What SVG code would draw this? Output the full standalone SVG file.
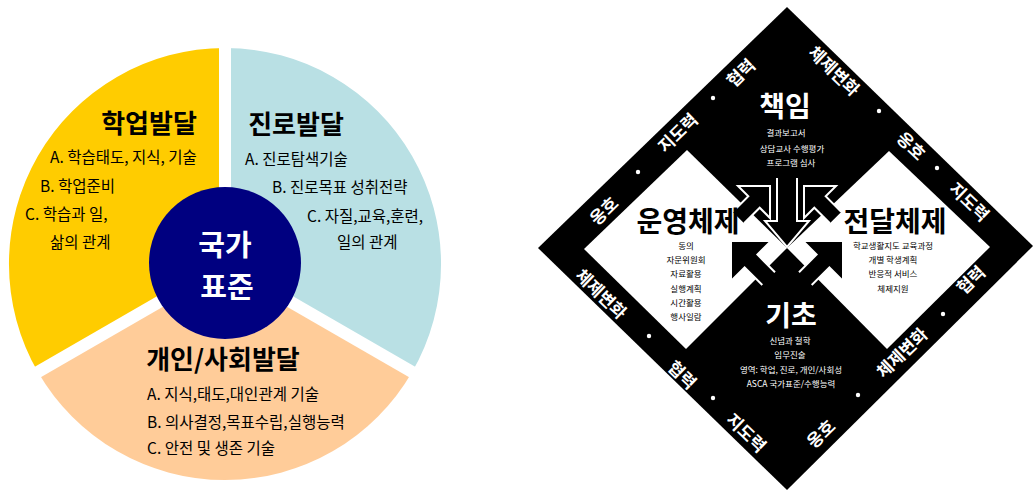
<svg xmlns="http://www.w3.org/2000/svg" width="1033" height="495" viewBox="0 0 1033 495">
<style>
.k{font-family:"Noto Sans CJK KR","Noto Sans",sans-serif}
.t{font-size:26px;font-weight:bold;fill:#000}
.i{font-size:15.5px;fill:#000}
.c{font-size:29px;font-weight:bold;fill:#fff;text-anchor:middle}
.dt{font-size:28px;font-weight:bold;text-anchor:middle}
.w{fill:#fff}
.b{fill:#000}
.s{font-size:8.5px;text-anchor:middle}
.e{font-size:17px;font-weight:bold;fill:#fff;text-anchor:middle;dominant-baseline:central}
.arr{fill:#000;stroke:#fff;stroke-width:2;stroke-linejoin:miter}
.gap{stroke:#fff;stroke-width:12}
</style>
<rect width="1033" height="495" fill="#fff"/>

<g id="pie">
  <g id="academic">
    <path d="M225,264 L225,48 A216,216 0 0,0 37.9,372 Z" fill="#FFCC00"/>
  </g>
  <g id="career">
    <path d="M225,264 L225,48 A216,216 0 0,1 412.1,372 Z" fill="#B9E0E4"/>
  </g>
  <g id="personal">
    <path d="M225,264 L37.9,372 A216,216 0 0,0 412.1,372 Z" fill="#FFCC99"/>
  </g>
  <line class="gap" x1="225" y1="264" x2="225" y2="40"/>
  <line class="gap" x1="225" y1="264" x2="17" y2="384"/>
  <line class="gap" x1="225" y1="264" x2="433" y2="384"/>
</g>

<g id="academic-text" class="k">
  <text class="t" x="149" y="133" text-anchor="middle">학업발달</text>
  <text class="i" x="50" y="163">A. 학습태도, 지식, 기술</text>
  <text class="i" x="40" y="192">B. 학업준비</text>
  <text class="i" x="25" y="220">C. 학습과 일,</text>
  <text class="i" x="50" y="248">삶의 관계</text>
</g>
<g id="career-text" class="k">
  <text class="t" x="296" y="134" text-anchor="middle">진로발달</text>
  <text class="i" x="245" y="165">A. 진로탐색기술</text>
  <text class="i" x="272" y="193">B. 진로목표 성취전략</text>
  <text class="i" x="307" y="222">C. 자질,교육,훈련,</text>
  <text class="i" x="337" y="248">일의 관계</text>
</g>
<g id="personal-text" class="k">
  <text class="t" x="223" y="369" text-anchor="middle">개인/사회발달</text>
  <text class="i" x="147" y="400">A. 지식,태도,대인관계 기술</text>
  <text class="i" x="147" y="428">B. 의사결정,목표수립,실행능력</text>
  <text class="i" x="147" y="454">C. 안전 및 생존 기술</text>
</g>
<g id="national-standard">
  <circle cx="225" cy="263" r="76" fill="#000080"/>
  <text class="k c" x="225" y="256">국가</text>
  <text class="k c" x="227" y="298">표준</text>
</g>

<g id="diamond">
  <polygon points="787,7 1033,246 787,490 538,248" fill="#000"/>
  <g id="management-box"><polygon points="687,150 787,248 686,349 584,249" fill="#fff"/></g>
  <g id="delivery-box"><polygon points="889,151 990,247 887,349 787,248" fill="#fff"/></g>
</g>

<g id="connectors">
  <path class="arr" d="M797,178 L797,221 L809,221 L787,247 L765,221 L777,221 L777,178"/>
  <path class="arr" d="M732.8,211.9 L748.3,196.3 L738,186 L770,186 L770,218 L759.7,207.7 L744.1,223.2"/>
  <path class="arr" d="M841.2,211.9 L825.7,196.3 L836,186 L804,186 L804,218 L814.3,207.7 L829.9,223.2"/>
  <path class="arr" d="M775,272.3 L757.4,254.6 L771,241 L731,241 L731,281 L744.6,267.4 L762.3,285"/>
  <path class="arr" d="M799,272.3 L816.6,254.6 L803,241 L843,241 L843,281 L829.4,267.4 L811.7,285"/>
</g>

<g id="accountability" class="k">
  <text class="dt w" x="785" y="117">책임</text>
  <text class="s w" x="786" y="136" font-size="9">결과보고서</text>
  <text class="s w" x="792" y="152" font-size="9">상담교사 수행평가</text>
  <text class="s w" x="791" y="166" font-size="9">프로그램 심사</text>
</g>
<g id="management" class="k">
  <text class="dt b" x="688" y="232">운영체제</text>
  <text class="s b" x="686" y="249">동의</text>
  <text class="s b" x="686" y="263">자문위원회</text>
  <text class="s b" x="686" y="277">자료활용</text>
  <text class="s b" x="686" y="292">실행계획</text>
  <text class="s b" x="686" y="306">시간활용</text>
  <text class="s b" x="686" y="320">행사일람</text>
</g>
<g id="delivery" class="k">
  <text class="dt b" x="895" y="232">전달체제</text>
  <text class="s b" x="893" y="249">학교생활지도 교육과정</text>
  <text class="s b" x="893" y="263">개별 학생계획</text>
  <text class="s b" x="893" y="277">반응적 서비스</text>
  <text class="s b" x="893" y="292">체제지원</text>
</g>
<g id="foundation" class="k">
  <text class="dt w" x="791" y="326">기초</text>
  <text class="s w" x="790" y="344">신념과 철학</text>
  <text class="s w" x="790" y="358">임무진술</text>
  <text class="s w" x="791" y="373">영역: 학업, 진로, 개인/사회성</text>
  <text class="s w" x="791" y="387">ASCA 국가표준/수행능력</text>
</g>

<g id="band-labels" class="k">
  <text class="e" transform="translate(603,210) rotate(-44)">옹호</text>
  <circle class="w" cx="638" cy="172" r="2.2"/>
  <text class="e" transform="translate(677,132) rotate(-44)">지도력</text>
  <circle class="w" cx="713" cy="98" r="2.2"/>
  <text class="e" transform="translate(740,72) rotate(-44)">협력</text>

  <text class="e" transform="translate(835,70) rotate(44)">체제변화</text>
  <circle class="w" cx="879" cy="111" r="2.2"/>
  <text class="e" transform="translate(912,145) rotate(44)">옹호</text>
  <circle class="w" cx="937" cy="168" r="2.2"/>
  <text class="e" transform="translate(970,201) rotate(44)">지도력</text>

  <text class="e" transform="translate(970,279) rotate(-44)">협력</text>
  <circle class="w" cx="943" cy="314" r="2.2"/>
  <text class="e" transform="translate(901,352) rotate(-44)">체제변화</text>
  <circle class="w" cx="858" cy="395" r="2.2"/>
  <text class="e" transform="translate(820,433) rotate(-44)">옹호</text>

  <text class="e" transform="translate(602,293) rotate(44)">체제변화</text>
  <circle class="w" cx="649" cy="336" r="2.2"/>
  <text class="e" transform="translate(683,374) rotate(44)">협력</text>
  <circle class="w" cx="713" cy="398" r="2.2"/>
  <text class="e" transform="translate(747,432) rotate(44)">지도력</text>
</g>
</svg>
